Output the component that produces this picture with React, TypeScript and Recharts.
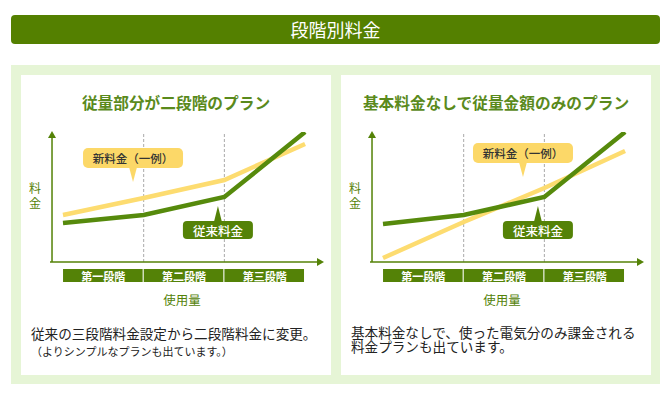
import React from 'react';
import { LineChart, Line, XAxis, YAxis, ReferenceLine, ReferenceDot, Label } from 'recharts';

// 使用量の段階 (x軸)
const stages = ['第一段階', '第二段階', '第三段階'];
const stageTicks = [0.5, 1.5, 2.5];
const usage = [0, 1, 2, 3];
const dividers = [1, 2];

// 料金 (目安の値)
const leftOldFee = [39, 47, 65, 130];
const leftNewFee = [47, 64, 82, 118];
const rightOldFee = [38, 47, 65, 130];
const rightNewFee = [4, 40, 74, 111];

// 吹き出しの位置 (データ座標)
const newCalloutAt = [{ x: 0.868, y: 80 }, { x: 1.735, y: 85 }];
const oldCalloutAt = [{ x: 1.92, y: 56 }, { x: 1.92, y: 56 }];

const heading = '段階別料金';
const titles = ['従量部分が二段階のプラン', '基本料金なしで従量金額のみのプラン'];
const leftCaption = ['従来の三段階料金設定から二段階料金に変更。', '（よりシンプルなプランも出ています。）'];
const rightCaption = ['基本料金なしで、使った電気分のみ課金される', '料金プランも出ています。'];
const newLabel = '新料金（一例）';
const oldLabel = '従来料金';
const yLabel = '料金';
const xLabel = '使用量';

const G = '#548207';
const LINE_G = '#568a0c';
const Y = '#fcd868';
const LINE_Y = '#fddc70';
const FONT = "'Noto Sans CJK JP', 'Noto Sans', sans-serif";
const X_MIN = -0.161;
const X_AXIS_AT = -0.136;
const X_MAX = 3.21;
const Y_MAX = 130;

// chart geometry
const CHART_W = 310;
const CHART_H = 240;
const MARGIN = { top: 57, right: 9, bottom: 13, left: 0 };
const X_AXIS_H = 40;
const PLOT_H = CHART_H - MARGIN.top - MARGIN.bottom - X_AXIS_H;

const StageTick = (props: any) => {
  const { x, y, index } = props;
  return (
    <g>
      <rect x={x - 40.3} y={y + 7} width={79.6} height={13} fill={G} />
      <text x={x} y={y + 14} textAnchor="middle" dominantBaseline="central" fill="#fff" fontSize={11} fontWeight={700} fontFamily={FONT}>
        {stages[index]}
      </text>
    </g>
  );
};

const NewCallout = ({ cx, cy }: any) => (
  <g>
    <rect x={cx - 50} y={cy - 34} width={100} height={20} rx={5} fill={Y} />
    <polygon points={`${cx - 4},${cy - 15} ${cx + 4},${cy - 15} ${cx},${cy}`} fill={Y} />
    <text x={cx} y={cy - 24} textAnchor="middle" dominantBaseline="central" fill="#333" fontSize={11.5} fontWeight={500} fontFamily={FONT}>
      {newLabel}
    </text>
  </g>
);

const OldCallout = ({ cx, cy }: any) => (
  <g>
    <rect x={cx - 35} y={cy + 15} width={70} height={18} rx={4} fill={G} />
    <polygon points={`${cx - 4},${cy + 16} ${cx + 4},${cy + 16} ${cx},${cy}`} fill={G} />
    <text x={cx} y={cy + 24.5} textAnchor="middle" dominantBaseline="central" fill="#fff" fontSize={12.5} fontWeight={500} fontFamily={FONT}>
      {oldLabel}
    </text>
  </g>
);

const ArrowRight = ({ cx, cy }: any) => (
  <polygon points={`${cx + 2},${cy} ${cx - 5},${cy - 4} ${cx - 5},${cy + 4}`} fill={G} />
);
// 縦軸: 矢印と軸線 (軸線は塗りの矩形で描く)
const ArrowUp = ({ cx, cy }: any) => (
  <g>
    <rect x={cx - 0.75} y={cy + 2} width={1.5} height={PLOT_H - 2} fill={G} />
    <polygon points={`${cx},${cy - 1} ${cx - 4},${cy + 6} ${cx + 4},${cy + 6}`} fill={G} />
  </g>
);

interface PlanProps {
  oldFee: number[];
  newFee: number[];
  newAt: { x: number; y: number };
  oldAt: { x: number; y: number };
}

const PlanChart: React.FC<PlanProps> = ({ oldFee, newFee, newAt, oldAt }) => {
  const data = usage.map((u, i) => ({ u, old: oldFee[i], fresh: newFee[i] }));
  return (
    <LineChart width={CHART_W} height={CHART_H} data={data} margin={MARGIN}>
      <XAxis
        type="number"
        dataKey="u"
        domain={[X_MIN, X_MAX]}
        allowDataOverflow
        ticks={stageTicks}
        interval={0}
        tickLine={false}
        tickSize={0}
        tickMargin={0}
        tick={(p: any) => <StageTick {...p} />}
        axisLine={{ stroke: G, strokeWidth: 1.5 }}
        height={X_AXIS_H}
      >
        <Label
          content={({ viewBox }: any) => (
            <text x={viewBox.x + 132} y={viewBox.y + 37} textAnchor="middle" dominantBaseline="central" fill={G} fontSize={12.5} fontFamily={FONT}>
              {xLabel}
            </text>
          )}
        />
      </XAxis>
      <YAxis type="number" domain={[0, Y_MAX]} allowDataOverflow ticks={[0, Y_MAX]} width={29} tick={false} tickLine={false} axisLine={false}>
        <Label
          content={({ viewBox }: any) => (
            <text
              x={viewBox.x + viewBox.width - 15}
              y={viewBox.y + 50}
              fill={G}
              fontSize={12}
              fontFamily={FONT}
              style={{ writingMode: 'vertical-rl', letterSpacing: 3 }}
            >
              {yLabel}
            </text>
          )}
        />
      </YAxis>
      {dividers.map((d) => (
        <ReferenceLine key={d} x={d} stroke="#aaa" strokeDasharray="3 2" />
      ))}
      <Line type="linear" dataKey="fresh" stroke={LINE_Y} strokeWidth={4.5} dot={false} isAnimationActive={false} />
      <Line type="linear" dataKey="old" stroke={LINE_G} strokeWidth={4.5} dot={false} isAnimationActive={false} />
      <ReferenceDot x={X_MAX} y={0} ifOverflow="visible" shape={(p: any) => <ArrowRight {...p} />} />
      <ReferenceDot x={X_AXIS_AT} y={Y_MAX} ifOverflow="visible" shape={(p: any) => <ArrowUp {...p} />} />
      <ReferenceDot x={newAt.x} y={newAt.y} ifOverflow="visible" shape={(p: any) => <NewCallout {...p} />} />
      <ReferenceDot x={oldAt.x} y={oldAt.y} ifOverflow="visible" shape={(p: any) => <OldCallout {...p} />} />
    </LineChart>
  );
};

const Panel: React.FC<{ left: number; title: string; caption: string[]; small: boolean; children: React.ReactNode }> = ({
  left,
  title,
  caption,
  small,
  children,
}) => (
  <div style={{ position: 'absolute', left, top: 75, width: 310, height: 300, background: '#fff' }}>
    <div
      style={{
        position: 'absolute',
        top: 18,
        left: 0,
        width: 310,
        height: 20,
        lineHeight: '20px',
        textAlign: 'center',
        fontSize: 15.7,
        fontWeight: 700,
        color: '#5a8a1c',
      }}
    >
      {title}
    </div>
    <div style={{ position: 'absolute', left: 0, top: 0 }}>{children}</div>
    <div
      style={{
        position: 'absolute',
        left: 10,
        top: 250,
        fontSize: 13.6,
        lineHeight: small ? '17px' : '14px',
        color: '#222',
        whiteSpace: 'nowrap',
      }}
    >
      {caption[0]}
      <br />
      <span style={{ fontSize: small ? 11 : 13.6 }}>{caption[1]}</span>
    </div>
  </div>
);

export default function App() {
  return (
    <div style={{ position: 'absolute', left: 0, top: 0, width: 670, height: 395, background: '#fff', fontFamily: FONT }}>
      <div
        style={{
          position: 'absolute',
          left: 11,
          top: 15,
          width: 649,
          height: 29,
          borderRadius: 4,
          background: '#548000',
          color: '#fff',
          fontSize: 18,
          lineHeight: '29px',
          textAlign: 'center',
        }}
      >
        {heading}
      </div>
      <div style={{ position: 'absolute', left: 11, top: 65, width: 649, height: 319, background: '#e6f5d6' }} />
      <Panel left={21} title={titles[0]} caption={leftCaption} small>
        <PlanChart oldFee={leftOldFee} newFee={leftNewFee} newAt={newCalloutAt[0]} oldAt={oldCalloutAt[0]} />
      </Panel>
      <Panel left={341} title={titles[1]} caption={rightCaption} small={false}>
        <PlanChart oldFee={rightOldFee} newFee={rightNewFee} newAt={newCalloutAt[1]} oldAt={oldCalloutAt[1]} />
      </Panel>
    </div>
  );
}
